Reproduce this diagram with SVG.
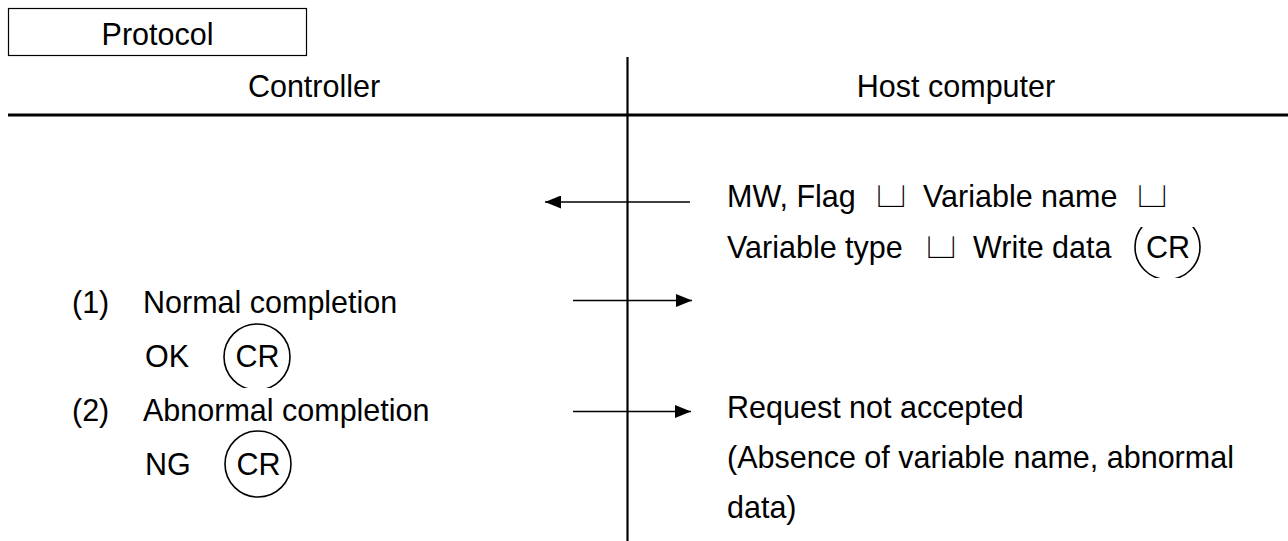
<svg xmlns="http://www.w3.org/2000/svg" width="1288" height="541" viewBox="0 0 1288 541">
<style>
text{font-family:"Liberation Sans",Arial,"DejaVu Sans",sans-serif;font-size:30.5px;fill:#000}
.c{text-anchor:middle}
.sp{font-family:"DejaVu Sans",sans-serif;font-size:38px;text-anchor:middle;stroke:#fff;stroke-width:2;paint-order:fill}
.ln{stroke:#000;stroke-width:1.7;fill:none}
.cr{stroke:#000;stroke-width:1.6;fill:none}
</style>
<defs>
<marker id="ah" markerWidth="16" markerHeight="13" refX="16" refY="6.5" orient="auto" markerUnits="userSpaceOnUse">
<path d="M0,0 L16,6.5 L0,13 z" fill="#000"/>
</marker>
<clipPath id="clipOK"><rect x="210" y="300" width="100" height="88"/></clipPath>
<clipPath id="clipHost"><rect x="1120" y="227" width="100" height="51"/></clipPath>
</defs>
<rect width="1288" height="541" fill="#fff"/>
<g id="header">
<rect x="8.5" y="8.5" width="298" height="47" fill="none" stroke="#000" stroke-width="1.2"/>
<text class="c" x="157.5" y="45">Protocol</text>
<text class="c" x="314" y="97">Controller</text>
<text class="c" x="956" y="97">Host computer</text>
<line x1="8" y1="115" x2="1288" y2="115" stroke="#000" stroke-width="2.8"/>
<line x1="627.5" y1="57" x2="627.5" y2="541" stroke="#000" stroke-width="2.2"/>
</g>
<g id="connectors">
<line class="ln" x1="690" y1="202" x2="545" y2="202" marker-end="url(#ah)"/>
<line class="ln" x1="573" y1="300.5" x2="692" y2="300.5" marker-end="url(#ah)"/>
<line class="ln" x1="573" y1="411.5" x2="691" y2="411.5" marker-end="url(#ah)"/>
</g>
<g id="host-request">
<text x="727" y="207">MW, Flag</text>
<text class="sp" transform="translate(891 208) scale(1.3 1)">⊔</text>
<text x="923" y="207">Variable name</text>
<text class="sp" transform="translate(1152 208) scale(1.3 1)">⊔</text>
<text x="727" y="258">Variable type</text>
<text class="sp" transform="translate(941 259) scale(1.3 1)">⊔</text>
<text x="973" y="258">Write data</text>
<circle class="cr" cx="1167.5" cy="247" r="32.5" clip-path="url(#clipHost)"/>
<text class="c" x="1168" y="258">CR</text>
</g>
<g id="normal">
<text x="72" y="313">(1)</text>
<text x="143" y="313">Normal completion</text>
<text x="145" y="367">OK</text>
<circle class="cr" cx="257" cy="357" r="33" clip-path="url(#clipOK)"/>
<text class="c" x="257.5" y="367">CR</text>
</g>
<g id="abnormal">
<text x="72" y="421">(2)</text>
<text x="143" y="421">Abnormal completion</text>
<text x="145" y="475">NG</text>
<circle class="cr" cx="258" cy="464" r="33"/>
<text class="c" x="258.5" y="475">CR</text>
</g>
<g id="host-response">
<text x="727" y="418">Request not accepted</text>
<text x="727" y="468">(Absence of variable name, abnormal</text>
<text x="727" y="518">data)</text>
</g>
</svg>
